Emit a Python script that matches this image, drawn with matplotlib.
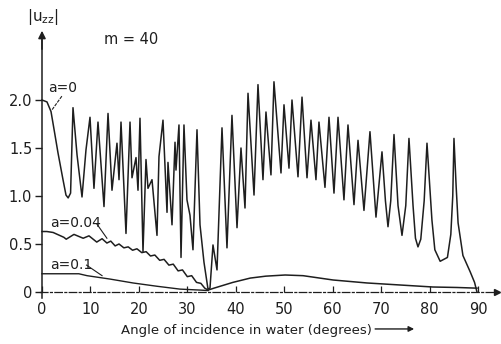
import matplotlib
matplotlib.use("Agg")
import matplotlib.pyplot as plt
from matplotlib import font_manager

names = {f.name for f in font_manager.fontManager.ttflist}
FAM = 'Liberation Sans Narrow' if 'Liberation Sans Narrow' in names else 'DejaVu Sans'
plt.rcParams['font.family'] = [FAM, 'DejaVu Sans']
plt.rcParams['mathtext.fontset'] = 'dejavusans'

# ---- data (angle in degrees, |u_zz|) ----
a0_x = [0.0, 1.03, 1.86, 2.5, 3.3, 4.3, 4.95, 5.4, 5.9, 6.40, 7.23, 8.26, 9.08, 9.91,
        10.73, 11.56, 12.80, 13.63, 14.45, 15.48, 15.90, 16.31, 17.34, 18.17, 18.58,
        19.41, 19.82, 20.23, 20.85, 21.47, 21.88, 22.71, 23.74, 24.15, 24.98, 25.81,
        26.01, 26.84, 27.46, 27.66, 28.28, 28.70, 29.31, 29.93, 30.55, 31.17, 32.00,
        32.62, 33.44, 34.27, 34.68, 35.30, 36.13, 37.16, 38.19, 39.22, 40.26, 41.08,
        41.91, 42.53, 43.77, 44.59, 45.62, 46.24, 47.27, 47.89, 49.34, 49.96, 50.99,
        51.61, 52.85, 53.68, 54.71, 55.53, 56.56, 57.18, 58.42, 59.25, 60.28, 61.11,
        62.34, 63.17, 64.41, 65.24, 66.47, 67.71, 68.95, 70.19, 70.9, 71.43, 72.0,
        72.67, 73.5, 74.32, 75.1, 75.76, 76.6, 77.1, 77.62, 78.2, 78.9, 79.48, 80.5,
        81.1, 82.2, 83.7, 84.4, 84.8, 85.05, 85.5, 85.9, 86.9, 88.4, 89.3, 89.8]
a0_y = [2.00, 1.98, 1.88, 1.69, 1.45, 1.18, 1.01, 0.98, 1.03, 1.92, 1.43, 0.99, 1.48, 1.82,
        1.08, 1.77, 0.89, 1.86, 1.06, 1.55, 1.17, 1.77, 0.61, 1.77, 1.19,
        1.40, 1.06, 1.81, 0.42, 1.38, 1.08, 1.17, 0.59, 1.41, 1.79, 0.83,
        1.35, 0.70, 1.56, 1.27, 1.74, 0.36, 1.74, 0.96, 0.80, 0.44, 1.69,
        0.70, 0.31, 0.03, 0.04, 0.49, 0.23, 1.71, 0.46, 1.84, 0.67, 1.50,
        0.875, 2.07, 1.01, 2.16, 1.17, 1.875, 1.22, 2.19, 1.24, 1.95, 1.29,
        2.00, 1.20, 2.03, 1.19, 1.79, 1.17, 1.77, 1.09, 1.82, 1.03, 1.82,
        0.96, 1.74, 0.91, 1.58, 0.85, 1.67, 0.78, 1.46, 0.95, 0.68, 0.95,
        1.64, 0.90, 0.59, 0.90, 1.60, 0.90, 0.56, 0.47, 0.55, 0.95, 1.55, 0.75,
        0.44, 0.32, 0.36, 0.60, 1.00, 1.60, 1.10, 0.72, 0.38, 0.21, 0.10, 0.0]

a004_x = [0.0, 1.0, 2.3, 4.5, 5.0, 6.6, 8.5, 9.7, 11.3, 12.4, 13.4, 14.2, 15.1, 15.9,
          16.9, 17.8, 18.7, 19.6, 20.6, 21.5, 22.4, 23.3, 24.3, 25.2, 26.2, 27.1,
          28.1, 29.0, 30.0, 30.9, 31.9, 32.8, 33.6, 34.3, 35.5, 39.4, 43.0, 46.2,
          50.2, 53.9, 60.1, 67.1, 73.9, 80.7, 85.7, 89.8]
a004_y = [0.63, 0.63, 0.62, 0.57, 0.55, 0.60, 0.56, 0.585, 0.52, 0.555, 0.51, 0.53, 0.48, 0.50,
          0.46, 0.47, 0.435, 0.45, 0.41, 0.42, 0.375, 0.385, 0.33, 0.34, 0.28, 0.29,
          0.22, 0.23, 0.16, 0.17, 0.10, 0.09, 0.04, 0.02, 0.04, 0.10, 0.145, 0.165,
          0.177, 0.17, 0.125, 0.094, 0.073, 0.052, 0.047, 0.04]

a01_x = [0.0, 7.6, 9.3, 14.0, 18.8, 23.7, 28.5, 32.6, 34.3]
a01_y = [0.19, 0.19, 0.17, 0.135, 0.094, 0.06, 0.03, 0.02, 0.015]

xticks = [0, 10, 20, 30, 40, 50, 60, 70, 80, 90]
xtick_labels = ['0', '10', '20', '30', '40', '50', '60', '70', '80', '90']
yticks = [0, 0.5, 1.0, 1.5, 2.0]
ytick_labels = ['0', '0.5', '1.0', '1.5', '2.0']

INK = '#1e1e1e'

fig = plt.figure(figsize=(5.01, 3.44), dpi=100)
ax = fig.add_axes([0, 0, 1, 1])
ax.set_xlim(-8.67, 94.76)
ax.set_ylim(-0.5417, 3.0417)

ax.plot(a0_x, a0_y, color=INK, lw=1.1, solid_joinstyle='round')
ax.plot(a004_x, a004_y, color=INK, lw=1.1)
ax.plot(a01_x, a01_y, color=INK, lw=1.0)

for s in ('top', 'right'):
    ax.spines[s].set_visible(False)
ax.spines['left'].set_position(('data', 0))
ax.spines['left'].set_bounds(-0.06, 2.62)
ax.spines['left'].set_linewidth(1.1)
ax.spines['left'].set_color(INK)
ax.spines['bottom'].set_position(('data', 0))
ax.spines['bottom'].set_bounds(-0.4, 93.8)
ax.spines['bottom'].set_linestyle((0, (6, 2, 1.5, 2)))
ax.spines['bottom'].set_linewidth(0.9)
ax.spines['bottom'].set_color(INK)

ax.set_xticks(xticks)
ax.set_xticklabels(xtick_labels)
ax.set_yticks(yticks)
ax.set_yticklabels(ytick_labels)
ax.tick_params(axis='x', direction='in', length=4, width=0.9, pad=7,
               labelsize=10.5, colors=INK)
ax.tick_params(axis='y', direction='out', length=5, width=1.0, pad=2,
               labelsize=10.5, colors=INK)

ax.annotate('', xy=(0, 2.75), xytext=(0, 2.5),
            arrowprops=dict(arrowstyle='-|>', lw=1.1, color=INK, mutation_scale=11))
ax.plot([94.0], [0], marker='>', ms=4, color=INK)

ax.text(0.1, 2.865, r'$|\mathregular{u}_{\mathregular{zz}}|$', ha='center', va='center',
        fontsize=11, color=INK)
ax.text(18.4, 2.63, 'm = 40', ha='center', va='center', fontsize=10.5, color=INK)

ax.text(1.3, 2.12, 'a=0', ha='left', va='center', fontsize=10, color=INK)
ax.plot([4.1, 2.1], [2.04, 1.9], color=INK, lw=0.8, ls=(0, (3, 1)))
ax.text(1.6, 0.72, 'a=0.04', ha='left', va='center', fontsize=10, color=INK)
ax.plot([11.3, 13.4], [0.71, 0.56], color=INK, lw=0.8)
ax.text(1.6, 0.28, 'a=0.1', ha='left', va='center', fontsize=10, color=INK)
ax.plot([9.2, 12.4], [0.28, 0.17], color=INK, lw=0.8)

ax.text(42.3, -0.40, 'Angle of incidence in water (degrees)', ha='center', va='center',
        fontsize=9.5, color=INK)
ax.annotate('', xy=(77.4, -0.385), xytext=(68.2, -0.385),
            arrowprops=dict(arrowstyle='-|>', lw=1.0, color=INK, mutation_scale=8))

fig.savefig('out.png', dpi=100)
